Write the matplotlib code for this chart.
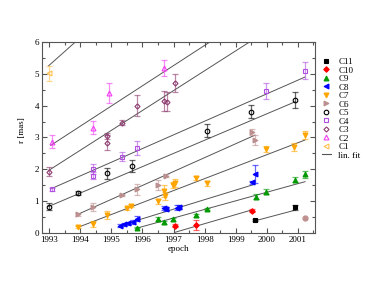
import matplotlib
matplotlib.use("Agg")
import matplotlib.pyplot as plt
import numpy as np
from matplotlib.colors import to_rgba
from matplotlib.lines import Line2D
from matplotlib.ticker import MultipleLocator

plt.rcParams['font.family'] = ['Liberation Serif', 'DejaVu Serif']

# component data: epoch, r [mas], error
c1_t = [1992.98]
c1_r = [5.02]
c1_e = [0.24]

c2_t = [1993.09, 1994.40, 1994.91, 1996.68]
c2_r = [2.87, 3.31, 4.39, 5.17]
c2_e = [0.21, 0.20, 0.32, 0.25]

c3_t = [1992.98, 1994.87, 1994.87, 1995.34, 1995.82, 1996.68, 1996.78, 1997.05]
c3_r = [1.93, 3.04, 2.84, 3.47, 4.00, 4.15, 4.12, 4.72]
c3_e = [0.13, 0.10, 0.23, 0.08, 0.32, 0.32, 0.30, 0.29]

c4_t = [1993.09, 1994.42, 1994.42, 1995.34, 1995.82, 1999.98, 2001.23]
c4_r = [1.37, 2.01, 1.80, 2.40, 2.66, 4.46, 5.10]
c4_e = [0.05, 0.17, 0.12, 0.15, 0.22, 0.25, 0.27]

c5_t = [1992.98, 1993.94, 1994.87, 1995.66, 1998.07, 1999.50, 2000.91]
c5_r = [0.83, 1.25, 1.87, 2.10, 3.21, 3.81, 4.18]
c5_e = [0.12, 0.07, 0.17, 0.18, 0.20, 0.20, 0.25]

c6_t = [1993.94, 1994.42, 1995.34, 1995.82, 1996.51, 1996.75, 1999.52, 1999.62]
c6_r = [0.59, 0.81, 1.19, 1.37, 1.51, 1.80, 3.18, 2.92]
c6_e = [0.05, 0.12, 0.03, 0.17, 0.15, 0.05, 0.10, 0.15]

c7_t = [1993.94, 1994.42, 1994.87, 1995.50, 1995.64, 1996.51, 1996.68, 1996.73,
        1996.99, 1997.05, 1997.73, 1998.07, 1999.98, 2000.88, 2001.23]
c7_r = [0.20, 0.28, 0.57, 0.78, 0.85, 0.99, 1.32, 1.17,
        1.51, 1.56, 1.72, 1.56, 2.64, 2.71, 3.08]
c7_e = [0.03, 0.08, 0.12, 0.05, 0.05, 0.07, 0.20, 0.12,
        0.10, 0.12, 0.07, 0.08, 0.10, 0.12, 0.12]

c8_t = [1995.28, 1995.42, 1995.55, 1995.69, 1995.82, 1996.71, 1996.76, 1997.10,
        1997.19, 1999.52, 1999.62]
c8_r = [0.23, 0.27, 0.30, 0.34, 0.45, 0.78, 0.74, 0.79, 0.81, 1.59, 1.84]
c8_e = [0.04, 0.04, 0.05, 0.06, 0.08, 0.07, 0.06, 0.08, 0.06, 0.05, 0.28]

c9_t = [1995.82, 1996.51, 1996.68, 1996.98, 1997.73, 1998.07, 1999.65, 1999.98,
        2000.91, 2001.23]
c9_r = [0.17, 0.44, 0.34, 0.43, 0.55, 0.75, 1.14, 1.30, 1.67, 1.84]
c9_e = [0.03, 0.06, 0.05, 0.05, 0.05, 0.04, 0.08, 0.08, 0.08, 0.12]

c10_t = [1997.05, 1997.73, 1999.52]
c10_r = [0.23, 0.25, 0.70]
c10_e = [0.04, 0.15, 0.05]

c11_t = [1999.62, 2000.91]
c11_r = [0.41, 0.80]
c11_e = [0.03, 0.08]

extra_t = [2001.23]
extra_r = [0.46]

# linear fits: start epoch, end epoch, r at start, rate [mas/yr]
fit_start = [1992.98, 1993.05, 1992.98, 1993.09, 1992.98, 1993.89, 1993.94, 1995.28, 1995.82, 1997.05, 1999.62]
fit_end = [1995.0, 1999.0, 2000.0, 2001.23, 2000.91, 1999.62, 2001.23, 1999.62, 2001.23, 1999.52, 2000.91]
fit_r0 = [5.25, 2.75, 1.96, 1.40, 0.83, 0.57, 0.18, 0.23, 0.15, 0.02, 0.38]
fit_rate = [0.87, 0.635, 0.625, 0.43, 0.415, 0.437, 0.376, 0.30, 0.27, 0.285, 0.26]

names = ['C1', 'C2', 'C3', 'C4', 'C5', 'C6', 'C7', 'C8', 'C9', 'C10', 'C11']
series = [(c1_t, c1_r, c1_e), (c2_t, c2_r, c2_e), (c3_t, c3_r, c3_e),
          (c4_t, c4_r, c4_e), (c5_t, c5_r, c5_e), (c6_t, c6_r, c6_e),
          (c7_t, c7_r, c7_e), (c8_t, c8_r, c8_e), (c9_t, c9_r, c9_e),
          (c10_t, c10_r, c10_e), (c11_t, c11_r, c11_e)]
colors = ['#FFC04D', '#F040F0', '#8E3A6E', '#B050E0', '#000000', '#BC8F8F',
          '#FFA500', '#0000FF', '#009900', '#FF0000', '#000000']
markers = ['<', '^', 'D', 's', 'o', '>', 'v', '<', '^', 'D', 's']
filled = [False, False, False, False, False, True, True, True, True, True, True]
msizes = [3.5, 3.5, 2.6, 3.0, 3.3, 3.5, 3.5, 3.5, 3.5, 2.8, 3.0]

fig = plt.figure(figsize=(3.65, 2.82), dpi=100)
ax = fig.add_axes([0.115, 0.174, 0.748, 0.677])

for i in range(len(fit_start)):
    tt = np.array([fit_start[i], fit_end[i]])
    ax.plot(tt, fit_r0[i] + fit_rate[i] * (tt - fit_start[i]), color='#555555', lw=0.7, zorder=1)

for (t, r, e), c, m, f, ms in zip(series, colors, markers, filled, msizes):
    ax.errorbar(t, r, yerr=e, fmt='none', ecolor=to_rgba(c, 0.6), elinewidth=0.9,
                capsize=2.5, capthick=0.9, zorder=2)
    ax.plot(t, r, ls='none', marker=m, ms=ms, mec=c, mfc=c if f else 'none',
            mew=0.8, zorder=3)

ax.plot(extra_t, extra_r, ls='none', marker='o', ms=3.5, color='#C09090', zorder=3)

ax.set_xlim(1992.77, 2001.55)
ax.set_ylim(0, 6)
ax.xaxis.set_major_locator(MultipleLocator(1))
ax.xaxis.set_minor_locator(MultipleLocator(0.5))
ax.yaxis.set_major_locator(MultipleLocator(1))
ax.yaxis.set_minor_locator(MultipleLocator(0.5))
ax.tick_params(which='both', direction='in', top=True, right=True, labelsize=6.5,
               color='#555555', pad=2)
ax.tick_params(which='major', length=3.5, width=0.8)
ax.tick_params(which='minor', length=2, width=0.8)
for s in ax.spines.values():
    s.set_color('#555555')
    s.set_linewidth(0.8)

ax.set_xlabel('epoch', fontsize=6.5, labelpad=1)
ax.set_ylabel('r [mas]', fontsize=6.5, labelpad=3)
ax.yaxis.set_label_coords(-0.06, 0.54)

handles = []
for i in range(len(names) - 1, -1, -1):
    handles.append(Line2D([], [], ls='none', marker=markers[i], ms=msizes[i], mec=colors[i],
                          mfc=colors[i] if filled[i] else 'none', mew=0.8, label=names[i]))
handles.append(Line2D([], [], color='#555555', lw=0.8, label='lin. fit'))
fig.legend(handles=handles, loc='upper left', bbox_to_anchor=(0.882, 0.795), frameon=False,
           fontsize=6.5, handlelength=1.0, handletextpad=0.8, labelspacing=0.02,
           borderaxespad=0, borderpad=0)

fig.savefig('out.png', dpi=100)
